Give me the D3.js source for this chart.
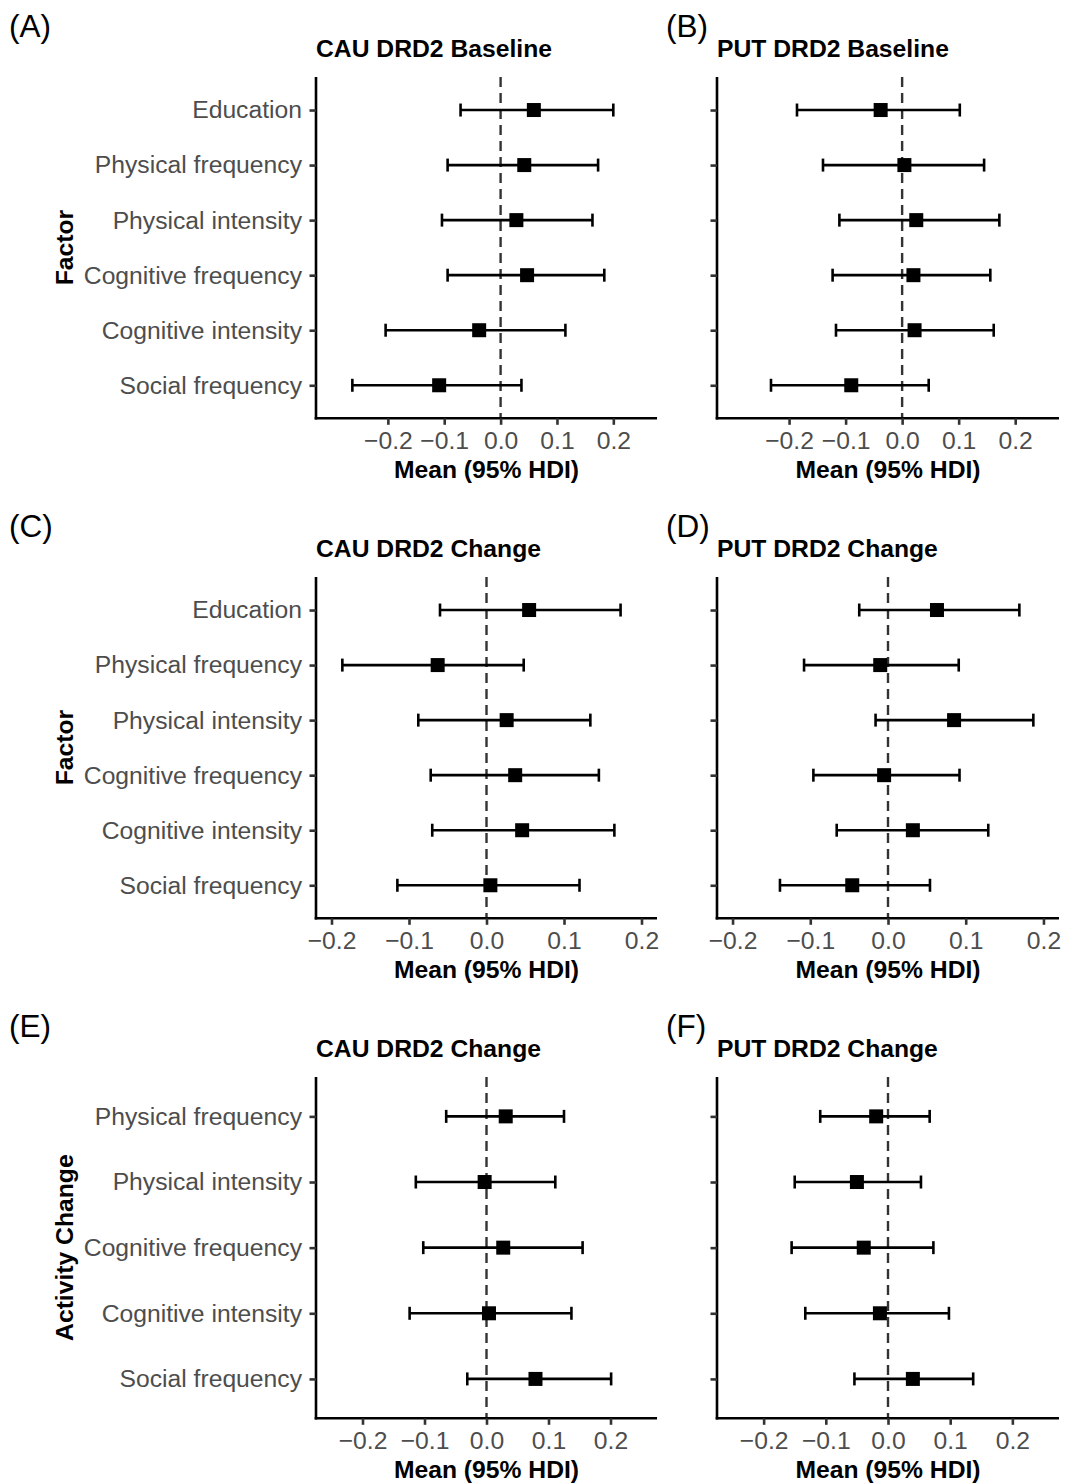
<!DOCTYPE html>
<html>
<head>
<meta charset="utf-8">
<script src="https://cdn.jsdelivr.net/npm/d3@7"></script>
<style>
  html, body { margin: 0; padding: 0; background: #fff; }
  svg text { font-family: "Liberation Sans", Arial, Helvetica, sans-serif; }
</style>
</head>
<body>
<svg id="chart" width="1065" height="1483"></svg>
<script>
// ---- data ----
const factorCats = ["Education", "Physical frequency", "Physical intensity", "Cognitive frequency", "Cognitive intensity", "Social frequency"];
const activityCats = ["Physical frequency", "Physical intensity", "Cognitive frequency", "Cognitive intensity", "Social frequency"];

const panelLabels = ["(A)", "(B)", "(C)", "(D)", "(E)", "(F)"];
const panelTitles = ["CAU DRD2 Baseline", "PUT DRD2 Baseline", "CAU DRD2 Change", "PUT DRD2 Change", "CAU DRD2 Change", "PUT DRD2 Change"];
const yTitles = ["Factor", "Factor", "Activity Change"];
const xTitle = "Mean (95% HDI)";
const xTicks = [-0.2, -0.1, 0.0, 0.1, 0.2];
const xLimits = [[-0.3, 0.25], [-0.3, 0.25], [-0.2, 0.2], [-0.2, 0.2], [-0.25, 0.25], [-0.25, 0.25]];

const meanA = [0.059, 0.042, 0.028, 0.047, -0.038, -0.109];
const lowA  = [-0.071, -0.094, -0.104, -0.094, -0.204, -0.263];
const highA = [0.200, 0.173, 0.163, 0.184, 0.115, 0.037];

const meanB = [-0.038, 0.004, 0.025, 0.020, 0.022, -0.090];
const lowB  = [-0.186, -0.140, -0.111, -0.123, -0.117, -0.232];
const highB = [0.102, 0.145, 0.172, 0.156, 0.162, 0.047];

const meanC = [0.055, -0.063, 0.026, 0.037, 0.046, 0.005];
const lowC  = [-0.060, -0.186, -0.088, -0.072, -0.070, -0.115];
const highC = [0.173, 0.048, 0.134, 0.145, 0.165, 0.120];

const meanD = [0.063, -0.010, 0.085, -0.005, 0.032, -0.046];
const lowD  = [-0.037, -0.108, -0.016, -0.096, -0.066, -0.139];
const highD = [0.169, 0.091, 0.187, 0.092, 0.129, 0.054];

const meanE = [0.031, -0.003, 0.027, 0.004, 0.079];
const lowE  = [-0.065, -0.114, -0.102, -0.124, -0.031];
const highE = [0.125, 0.111, 0.155, 0.137, 0.201];

const meanF = [-0.019, -0.050, -0.039, -0.013, 0.040];
const lowF  = [-0.109, -0.150, -0.155, -0.133, -0.054];
const highF = [0.067, 0.053, 0.073, 0.098, 0.137];

// ---- build panels ----
const panels = [
  {cats: factorCats, mean: meanA, low: lowA, high: highA},
  {cats: factorCats, mean: meanB, low: lowB, high: highB},
  {cats: factorCats, mean: meanC, low: lowC, high: highC},
  {cats: factorCats, mean: meanD, low: lowD, high: highD},
  {cats: activityCats, mean: meanE, low: lowE, high: highE},
  {cats: activityCats, mean: meanF, low: lowF, high: highF}
].map((p, i) => Object.assign(p, {
  label: panelLabels[i], title: panelTitles[i], limits: xLimits[i],
  col: i % 2, row: Math.floor(i / 2)
}));

const svg = d3.select("#chart");
const colX = [[316, 657], [717, 1059]];
const rowTop = 77, rowBottom = 418.3, rowStep = 500;
const fmt = d3.format(".1f");
const FS = 24.7;
const LW = 2.6;

panels.forEach(p => {
  const y0 = rowTop + p.row * rowStep, y1 = rowBottom + p.row * rowStep;
  const [x0, x1] = colX[p.col];
  const ext = (p.limits[1] - p.limits[0]) * 0.05;
  const x = d3.scaleLinear().domain([p.limits[0] - ext, p.limits[1] + ext]).range([x0, x1]);
  const y = d3.scalePoint().domain(p.cats).range([y0, y1]).padding(0.6);

  const g = svg.append("g");

  // panel label
  g.append("text")
    .attr("x", p.col === 0 ? 9 : 666)
    .attr("y", 37 + p.row * rowStep)
    .attr("font-size", 31.5)
    .attr("fill", "#000")
    .text(p.label);

  // title
  g.append("text")
    .attr("x", x0)
    .attr("y", 56.5 + p.row * rowStep)
    .attr("font-size", FS)
    .attr("font-weight", "bold")
    .attr("fill", "#000")
    .text(p.title);

  // zero reference line
  g.append("line")
    .attr("x1", x(0)).attr("x2", x(0))
    .attr("y1", y0).attr("y2", y1)
    .attr("stroke", "#333")
    .attr("stroke-width", 2.4)
    .attr("stroke-dasharray", "10,6");

  // error bars
  const rows = p.cats.map((c, k) => ({cat: c, m: p.mean[k], lo: p.low[k], hi: p.high[k]}));
  const eb = g.append("g");
  eb.selectAll("line.h").data(rows).join("line")
    .attr("x1", d => x(d.lo)).attr("x2", d => x(d.hi))
    .attr("y1", d => y(d.cat)).attr("y2", d => y(d.cat))
    .attr("stroke", "#000").attr("stroke-width", LW);
  eb.selectAll("line.l").data(rows).join("line")
    .attr("x1", d => x(d.lo)).attr("x2", d => x(d.lo))
    .attr("y1", d => y(d.cat) - 6.5).attr("y2", d => y(d.cat) + 6.5)
    .attr("stroke", "#000").attr("stroke-width", LW);
  eb.selectAll("line.r").data(rows).join("line")
    .attr("x1", d => x(d.hi)).attr("x2", d => x(d.hi))
    .attr("y1", d => y(d.cat) - 6.5).attr("y2", d => y(d.cat) + 6.5)
    .attr("stroke", "#000").attr("stroke-width", LW);
  // points
  const s = 14;
  eb.selectAll("rect").data(rows).join("rect")
    .attr("x", d => x(d.m) - s / 2).attr("y", d => y(d.cat) - s / 2)
    .attr("width", s).attr("height", s)
    .attr("fill", "#000");

  // x axis
  const xa = g.append("g").attr("transform", `translate(0,${y1})`)
    .call(d3.axisBottom(x).tickValues(xTicks).tickFormat(fmt).tickSize(6.5).tickPadding(6.5));
  xa.select(".domain").attr("stroke", "#000").attr("stroke-width", LW).attr("d", `M${x0 - 1.3},0H${x1}`);
  xa.selectAll(".tick line").attr("stroke", "#333").attr("stroke-width", LW);
  xa.selectAll(".tick text").attr("fill", "#4d4d4d").attr("font-size", FS)
    .attr("font-family", '"Liberation Sans", Arial, sans-serif');

  // y axis
  const ya = g.append("g").attr("transform", `translate(${x0},0)`)
    .call(d3.axisLeft(y).tickSize(6.5).tickPadding(7.5).tickFormat(p.col === 0 ? (d => d) : (() => "")));
  ya.select(".domain").attr("stroke", "#000").attr("stroke-width", LW).attr("d", `M0,${y0}V${y1 + 1.3}`);
  ya.selectAll(".tick line").attr("stroke", "#333").attr("stroke-width", LW);
  ya.selectAll(".tick text").attr("fill", "#4d4d4d").attr("font-size", FS)
    .attr("font-family", '"Liberation Sans", Arial, sans-serif');

  // x title
  g.append("text")
    .attr("x", (x0 + x1) / 2)
    .attr("y", 478.3 + p.row * rowStep)
    .attr("text-anchor", "middle")
    .attr("font-size", FS)
    .attr("font-weight", "bold")
    .attr("fill", "#000")
    .text(xTitle);

  // y title (left column only)
  if (p.col === 0) {
    g.append("text")
      .attr("transform", `translate(73,${(y0 + y1) / 2}) rotate(-90)`)
      .attr("text-anchor", "middle")
      .attr("font-size", FS)
      .attr("font-weight", "bold")
      .attr("fill", "#000")
      .text(yTitles[p.row]);
  }
});
</script>
</body>
</html>
